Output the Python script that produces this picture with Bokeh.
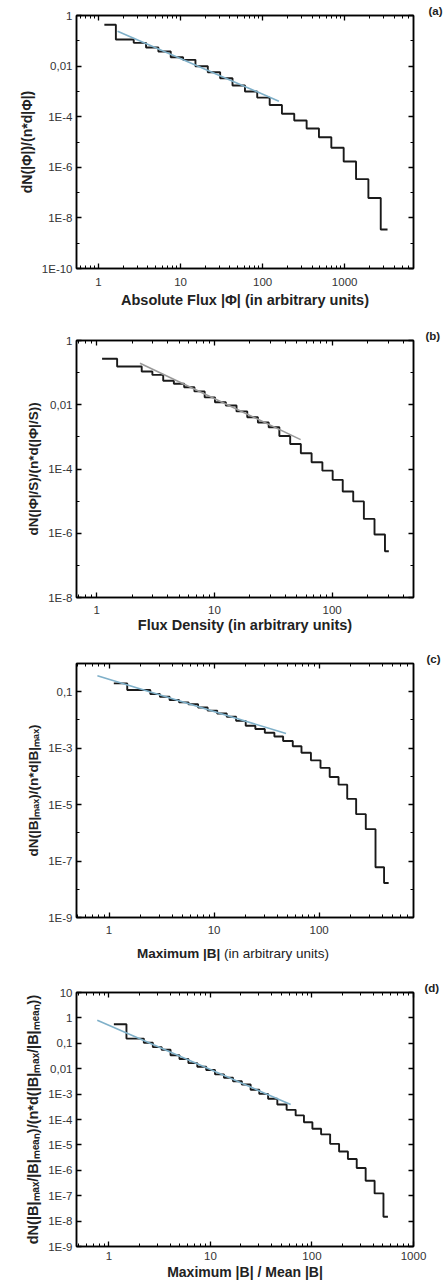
from bokeh.plotting import figure
from bokeh.models import Range1d, LogAxis, FixedTicker, CustomJSTickFormatter, Div
from bokeh.layouts import column
from bokeh.embed import file_html
from bokeh.resources import INLINE

# ---------------- data ----------------
# (a) absolute flux
a_edges = [1.18, 1.63, 2.69, 3.8, 5.37, 7.6, 10.75, 15.2, 21.5, 30.4, 43, 61, 86, 122,
           172, 243, 344, 486, 688, 973, 1376, 1946, 2752, 3330]
a_vals = [0.43, 0.112, 0.083, 0.054, 0.038, 0.0225, 0.0177, 0.0099, 0.0057, 0.0033,
          0.0017, 0.00099, 5.7e-4, 2.9e-4, 1.3e-4, 7.1e-5, 3.4e-5, 1.55e-5, 5.9e-6,
          1.7e-6, 3.4e-7, 6.1e-8, 3.5e-9]
a_fit_x = [1.71, 158]
a_fit_y = [0.24, 4.1e-4]

# (b) flux density
b_edges = [1.11, 1.49, 2.41, 2.97, 3.67, 4.52, 5.53, 6.76, 8.26, 10.1, 12.5, 15.4, 19.0,
           23.4, 28.9, 35.6, 44.0, 54.2, 66.9, 82.6, 101, 123, 151, 186, 229, 281, 303]
b_vals = [0.269, 0.155, 0.108, 0.085, 0.056, 0.045, 0.035, 0.026, 0.017, 0.012, 0.0095,
          0.0062, 0.0041, 0.0028, 0.0020, 0.00107, 6.0e-4, 3.1e-4, 1.62e-4, 8.9e-5,
          4.6e-5, 2.0e-5, 9.8e-6, 2.8e-6, 9.1e-7, 2.75e-7]
b_fit_x = [2.33, 54]
b_fit_y = [0.196, 8.2e-4]

# (c) maximum |B|
c_edges = [1.11, 1.49, 2.47, 3.05, 3.77, 4.64, 5.71, 7.04, 8.68, 10.7, 13.2, 16.2, 20.0,
           24.7, 30.4, 37.5, 45.4, 56.1, 67.9, 83.5, 103, 126, 153, 185, 225, 278, 344,
           415, 459]
c_vals = [0.197, 0.115, 0.083, 0.066, 0.051, 0.042, 0.036, 0.0275, 0.0214, 0.017, 0.0129,
          0.0093, 0.0062, 0.0048, 0.0035, 0.0026, 0.0018, 0.00117, 6.9e-4, 3.7e-4, 2.0e-4,
          9.5e-5, 5.1e-5, 1.6e-5, 4.6e-6, 1.35e-6, 6.0e-8, 1.66e-8]
c_fit_x = [0.775, 48.4]
c_fit_y = [0.369, 3.3e-3]

# (d) maximum |B| / mean |B|
d_edges = [1.12, 1.49, 2.21, 2.71, 3.31, 4.05, 4.96, 6.07, 7.43, 9.09, 11.1, 13.6, 16.7,
           20.4, 24.9, 30.3, 37.0, 45.6, 56.3, 69.1, 83.4, 101, 123, 151, 185, 226, 276,
           338, 414, 506, 560]
d_vals = [0.56, 0.153, 0.105, 0.071, 0.056, 0.034, 0.024, 0.0166, 0.012, 0.0089, 0.006,
          0.0044, 0.0032, 0.0024, 0.00148, 0.00102, 6.6e-4, 3.9e-4, 2.4e-4, 1.45e-4,
          7.8e-5, 4.3e-5, 2.6e-5, 1.1e-5, 5.5e-6, 2.8e-6, 1.23e-6, 3.9e-7, 1.23e-7, 1.48e-8]
d_fit_x = [0.769, 61.7]
d_fit_y = [0.807, 3.9e-4]

# tick labels
x_major_a = [1, 10, 100, 1000]
x_major_b = [1, 10, 100]
x_major_c = [1, 10, 100]
x_major_d = [1, 10, 100, 1000]
y_major_a = [1, 1e-2, 1e-4, 1e-6, 1e-8, 1e-10]
y_minor_a = [1e-1, 1e-3, 1e-5, 1e-7, 1e-9]
y_major_b = [1, 1e-2, 1e-4, 1e-6, 1e-8]
y_minor_b = [1e-1, 1e-3, 1e-5, 1e-7]
y_major_c = [1e-1, 1e-3, 1e-5, 1e-7, 1e-9]
y_minor_c = [1, 1e-2, 1e-4, 1e-6, 1e-8]
y_major_d = [10, 1, 1e-1, 1e-2, 1e-3, 1e-4, 1e-5, 1e-6, 1e-7, 1e-8, 1e-9]
y_minor_d = []

FONT = "Liberation Sans"
W = 445
TAG_LEFT = 424  # left edge of the panel tags, in page pixels

YFMT = """
const e = Math.round(Math.log10(tick));
if (e == 1) return "10";
if (e == 0) return "1";
if (e == -1) return "0,1";
if (e == -2) return "0,01";
return "1E" + e;
"""
XFMT = "return String(Math.round(tick));"
BLANK = 'return " ";'


def minors(lo, hi):
    out = []
    d = 0.01
    while d < 1e5:
        for k in range(2, 10):
            v = k * d
            if lo <= v <= hi:
                out.append(v)
        d *= 10
    return out


def panel(edges, vals, fx, fy, fcol, xr, yr, xmaj, ymaj, ymin, xlabel, ylabel,
          h, top, bottom, left, s1, s2, xl_size, yl_size, tag, tag_nudge=0):
    p = figure(width=W, height=h, x_axis_type="log", y_axis_type="log",
               x_range=Range1d(*xr), y_range=Range1d(*yr),
               output_backend="svg", toolbar_location=None,
               min_border_left=left, min_border_right=32,
               min_border_top=top, min_border_bottom=bottom)
    p.xgrid.visible = False
    p.ygrid.visible = False
    p.outline_line_color = "black"
    p.outline_line_width = 1.5
    p.background_fill_color = "white"
    p.border_fill_color = "white"

    # panel tag "(a)" etc.
    p.title.text = tag
    p.title.align = "left"
    p.title.offset = TAG_LEFT - left + tag_nudge
    p.title.standoff = -10
    p.title.text_font = FONT
    p.title.text_font_style = "bold"
    p.title.text_font_size = "11.5px"
    p.title.text_color = "#222222"

    xt = FixedTicker(ticks=xmaj, minor_ticks=minors(*xr))
    yt = FixedTicker(ticks=ymaj, minor_ticks=ymin)

    xa = p.below[0]
    ya = p.left[0]
    xa.ticker = xt
    xa.formatter = CustomJSTickFormatter(code=XFMT)
    xa.major_label_standoff = s1
    xa.axis_label_standoff = s2
    ya.ticker = yt
    ya.formatter = CustomJSTickFormatter(code=YFMT)
    ya.major_label_standoff = 4
    ya.axis_label_standoff = 4
    if xlabel:
        xa.axis_label = xlabel
    ya.axis_label = ylabel
    xa.axis_label_text_font_size = xl_size
    ya.axis_label_text_font_size = yl_size

    top_ax = LogAxis(ticker=xt, formatter=CustomJSTickFormatter(code=BLANK),
                     major_label_text_font_size="1px", major_label_standoff=0)
    right_ax = LogAxis(ticker=yt, formatter=CustomJSTickFormatter(code=BLANK),
                       major_label_text_font_size="1px", major_label_standoff=0)
    p.add_layout(top_ax, "above")
    p.add_layout(right_ax, "right")

    for ax in [xa, ya, top_ax, right_ax]:
        ax.axis_line_color = "black"
        ax.axis_line_width = 1.5
        ax.major_tick_in = 5
        ax.major_tick_out = 0
        ax.minor_tick_in = 3
        ax.minor_tick_out = 0
        ax.major_tick_line_width = 1.3
        ax.minor_tick_line_width = 1.0
        ax.major_tick_line_color = "black"
        ax.minor_tick_line_color = "black"
        ax.major_label_text_font = FONT
        ax.axis_label_text_font = FONT
        ax.axis_label_text_font_style = "bold"
        ax.axis_label_text_color = "#222222"
    for ax in [xa, ya]:
        ax.major_label_text_font_size = "11.5px"
        ax.major_label_text_color = "#333333"

    p.step(x=edges, y=list(vals) + [vals[-1]], mode="after",
           line_color="#1a1a1a", line_width=1.9)
    p.line(x=fx, y=fy, line_color=fcol, line_width=1.6)
    return p


pa = panel(a_edges, a_vals, a_fit_x, a_fit_y, "#7fb0c9", (0.54, 6900), (1e-10, 1),
           x_major_a, y_major_a, y_minor_a,
           "Absolute Flux |Φ| (in arbitrary units)", "dN(|Φ|)/(n*d|Φ|)",
           318, 15, 50, 72, 9, 3, "14.5px", "14px", "(a)")

pb = panel(b_edges, b_vals, b_fit_x, b_fit_y, "#9a9a9a", (0.673, 491), (1e-8, 1),
           x_major_b, y_major_b, y_minor_b,
           "Flux Density (in arbitrary units)", "dN(|Φ|/S)/(n*d(|Φ|/S))",
           322, 22, 43, 68, 8, 0, "14.5px", "13.5px", "(b)", tag_nudge=-7)

pc = panel(c_edges, c_vals, c_fit_x, c_fit_y, "#7fb0c9", (0.49, 791), (1e-9, 1),
           x_major_c, y_major_c, y_minor_c,
           "", "dN(|B|ₘₐₓ)/(n*d|B|ₘₐₓ)",
           299, 23, 22, 74, 8, 0, "13px", "13.5px", "(c)")

c_xlabel = Div(text="<b>Maximum |B|</b> (in arbitrary units)", width=W, height=23,
               styles={"font-family": FONT, "font-size": "13.5px", "color": "#222222",
                       "line-height": "23px", "padding-left": "137px",
                       "padding-top": "3px", "white-space": "nowrap", "margin": "0"})

pd_ = panel(d_edges, d_vals, d_fit_x, d_fit_y, "#7fb0c9", (0.48, 1000), (1e-9, 10),
            x_major_d, y_major_d, y_minor_d,
            "Maximum |B| / Mean |B|", "dN(|B|ₘₐₓ/|B|ₘₑₐₙ)/(n*d(|B|ₘₐₓ/|B|ₘₑₐₙ))",
            322, 30, 38, 76, 5, 1, "14px", "14.5px", "(d)")

layout = column(pa, pb, pc, c_xlabel, pd_)
open("out.html", "w").write(file_html(layout, INLINE))
